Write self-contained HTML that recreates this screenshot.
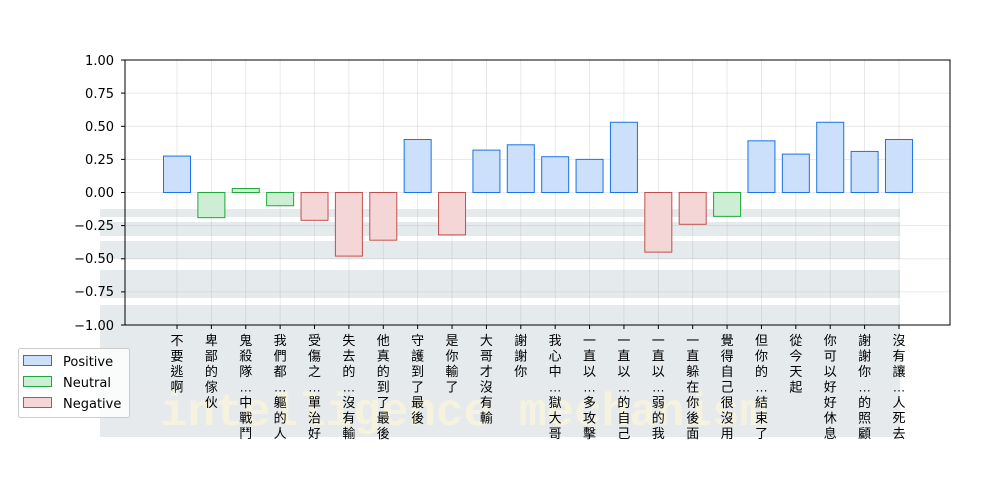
<!DOCTYPE html>
<html><head><meta charset="utf-8"><style>
body{margin:0;background:#fff;}
svg{display:block;font-family:"DejaVu Sans","Liberation Sans","Noto Sans CJK TC",sans-serif;}
</style></head><body>
<svg width="1000" height="500" viewBox="0 0 1000 500" xmlns="http://www.w3.org/2000/svg">
<rect width="1000" height="500" fill="#fff"/>
<g fill="#e3e8ea" opacity="0.9">
<rect x="100" y="209" width="800" height="8"/>
<rect x="100" y="222" width="800" height="14"/>
<rect x="100" y="241" width="800" height="18"/>
<rect x="100" y="270" width="800" height="28"/>
<rect x="100" y="305" width="800" height="132"/>
</g>
<text x="160" y="425" font-family="Liberation Mono,monospace" font-size="46" font-weight="bold" fill="#fdf6dc" opacity="0.7">intelligence mechanism</text>
<g stroke="#b0b0b0" stroke-opacity="0.35" stroke-width="0.8">
<line x1="125" x2="950" y1="60" y2="60"/><line x1="125" x2="950" y1="93.1" y2="93.1"/><line x1="125" x2="950" y1="126.3" y2="126.3"/><line x1="125" x2="950" y1="159.4" y2="159.4"/><line x1="125" x2="950" y1="192.5" y2="192.5"/><line x1="125" x2="950" y1="225.6" y2="225.6"/><line x1="125" x2="950" y1="258.8" y2="258.8"/><line x1="125" x2="950" y1="291.9" y2="291.9"/>
</g>
<g id="vg" stroke="#b0b0b0" stroke-opacity="0.35" stroke-width="0.8"></g>
<g id="bars" stroke-width="1"></g>
<rect x="125" y="60" width="825" height="265" fill="none" stroke="#000" stroke-width="1"/>
<g font-size="13" text-anchor="end" fill="#000">
<text x="114" y="65">1.00</text><text x="114" y="98">0.75</text><text x="114" y="131">0.50</text><text x="114" y="164">0.25</text><text x="114" y="197">0.00</text><text x="114" y="230">−0.25</text><text x="114" y="263">−0.50</text><text x="114" y="296">−0.75</text><text x="114" y="330">−1.00</text>
</g>
<g stroke="#000"><line x1="121" x2="125" y1="60" y2="60"/><line x1="121" x2="125" y1="93.1" y2="93.1"/><line x1="121" x2="125" y1="126.3" y2="126.3"/><line x1="121" x2="125" y1="159.4" y2="159.4"/><line x1="121" x2="125" y1="192.5" y2="192.5"/><line x1="121" x2="125" y1="225.6" y2="225.6"/><line x1="121" x2="125" y1="258.8" y2="258.8"/><line x1="121" x2="125" y1="291.9" y2="291.9"/><line x1="121" x2="125" y1="325" y2="325"/></g>
<g id="xt"></g>
<rect x="18.5" y="348.5" width="111" height="69" rx="2" fill="#fff" fill-opacity="0.8" stroke="#ccc"/>
<rect x="23.5" y="355.5" width="28" height="10" fill="#cce0fb" stroke="#1a73e8"/>
<rect x="23.5" y="376.5" width="28" height="10" fill="#cdeed5" stroke="#1ea83a"/>
<rect x="23.5" y="397.5" width="28" height="10" fill="#f4d6d6" stroke="#c0504d"/>
<g font-size="13" fill="#000"><text x="63" y="366">Positive</text><text x="63" y="387">Neutral</text><text x="63" y="408">Negative</text></g>
</svg>
<script>
const vals=[0.275,-0.19,0.03,-0.1,-0.21,-0.48,-0.36,0.40,-0.32,0.32,0.36,0.27,0.25,0.53,-0.45,-0.24,-0.18,0.39,0.29,0.53,0.31,0.40];
const cls=['p','u','u','u','n','n','n','p','n','p','p','p','p','p','n','n','u','p','p','p','p','p'];
const labels=["不要逃啊","卑鄙的傢伙","鬼殺隊…中戰鬥","我們都…軀的人","受傷之…單治好","失去的…沒有輸","他真的到了最後","守護到了最後","是你輸了","大哥才沒有輸","謝謝你","我心中…獄大哥","一直以…多攻擊","一直以…的自己","一直以…弱的我","一直躲在你後面","覺得自己很沒用","但你的…結束了","從今天起","你可以好好休息","謝謝你…的照顧","沒有讓…人死去"];
const col={p:['#cce0fb','#1a73e8'],u:['#cdeed5','#1ea83a'],n:['#f4d6d6','#c0504d']};
let b='',v='',t='';
vals.forEach((val,i)=>{
 const cx=177+i*34.38, y0=192.5, y1=192.5-val*132.5;
 const top=Math.min(y0,y1),h=Math.abs(y1-y0);
 b+=`<rect x="${cx-13.5}" y="${top}" width="27" height="${h}" fill="${col[cls[i]][0]}" stroke="${col[cls[i]][1]}"/>`;
 v+=`<line x1="${cx}" x2="${cx}" y1="60" y2="325"/>`;
 t+=`<line x1="${cx}" x2="${cx}" y1="325" y2="329" stroke="#000"/>`;
 [...labels[i]].forEach((ch,k)=>{
  t+=`<text x="${cx}" y="${345+k*15.5}" font-size="13" text-anchor="middle" font-family="Liberation Sans,Noto Sans CJK TC,sans-serif">${ch}</text>`;
 });
});
document.getElementById('bars').innerHTML=b;
document.getElementById('vg').innerHTML=v;
document.getElementById('xt').innerHTML=t;
</script>
</body></html>
